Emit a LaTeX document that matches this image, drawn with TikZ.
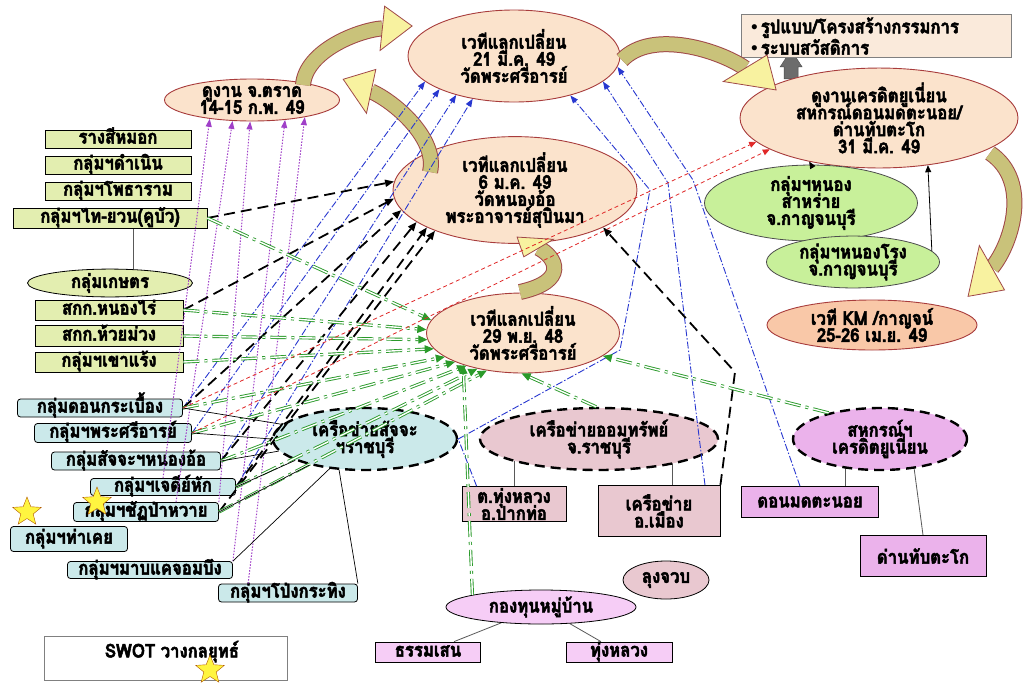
\documentclass[tikz,border=0pt]{standalone}
\usepackage{fontspec}
\setmainfont{Liberation Serif}
\newfontfamily\thaifont[Script=Thai, FakeStretch=0.88, FakeBold=2.6]{Loma}
\usetikzlibrary{shapes.geometric,arrows.meta,calc}

\definecolor{yboxfill}{HTML}{E3EEB0}
\definecolor{cboxfill}{HTML}{CBE9EA}
\definecolor{peach}{HTML}{FBE3CC}
\definecolor{evrim}{HTML}{A83C3C}
\definecolor{kmfill}{HTML}{F9C8A8}
\definecolor{greenfill}{HTML}{C8F09A}
\definecolor{pinkfill}{HTML}{E9C8D0}
\definecolor{violfill}{HTML}{EBB2EB}
\definecolor{fundfill}{HTML}{F6CDF6}
\definecolor{lessonfill}{HTML}{FAEADB}
\definecolor{purpc}{HTML}{A040C8}
\definecolor{bluec}{HTML}{2838D0}
\definecolor{greenc}{HTML}{2A9A2A}
\definecolor{redc}{HTML}{E02828}
\definecolor{arrbody}{HTML}{C9C27A}
\definecolor{arrhead}{HTML}{F8F2A0}
\definecolor{arrrim}{HTML}{A04848}

\pgfdeclarelayer{bg}
\pgfsetlayers{bg,main}

\tikzset{
  pics/bentarr/.style={code={
    \coordinate (hb) at (78,-0.55*#1);
    \coordinate (tp) at (100,0);
    \draw[line width=16pt, draw=arrrim] (0,0) .. controls (15,-1.3*#1) and (60,-#1) .. (hb);
    \draw[line width=14pt, draw=arrbody] (0,0) .. controls (15,-1.3*#1) and (60,-#1) .. (hb);
    \filldraw[draw=arrrim, fill=arrhead, line width=0.8pt] ($(hb)!21pt!90:(tp)$) -- (tp) -- ($(hb)!21pt!-90:(tp)$) -- cycle;
  }}
}
\AtBeginDocument{\lineskiplimit=-30pt}

\begin{document}
\begin{tikzpicture}[x=1pt, y=-1pt,
    every node/.style={font=\thaifont\bfseries\fontsize{19}{17}\selectfont, align=center, inner sep=0pt},
    ybox/.style={rectangle, draw, line width=0.8pt, fill=yboxfill, minimum height=18pt, text height=12pt, text depth=3pt},
    cbox/.style={rectangle, rounded corners=3pt, draw, line width=0.8pt, fill=cboxfill, minimum height=18pt, text height=12pt, text depth=3pt},
    event/.style={ellipse, draw=evrim, line width=0.9pt, fill=peach},
    grp/.style={ellipse, draw=black!70, line width=0.8pt, fill=greenfill},
    netw/.style={ellipse, draw, line width=2.4pt, dash pattern=on 10pt off 6pt},
    mbox/.style={rectangle, draw, line width=0.8pt},
    starnode/.style={star, star points=5, star point ratio=2.3, draw=orange!70!black, fill=yellow!75, minimum size=30pt},
    purp/.style={draw=purpc, line width=1pt, dash pattern=on 1.5pt off 1.5pt, -{Triangle[length=8pt,width=6pt]}},
    blu/.style={draw=bluec, line width=0.9pt, dash pattern=on 7pt off 2pt on 1.5pt off 2pt, -{Triangle[length=8pt,width=6pt]}},
    blk/.style={draw=black, line width=1.8pt, dash pattern=on 11pt off 6pt, -{Triangle[length=9pt,width=7pt]}},
    grn/.style={draw=greenc, line width=0.9pt, double=white, double distance=1.4pt, dash pattern=on 16pt off 5pt on 3pt off 5pt, -{Triangle[length=9pt,width=8pt]}},
    rdash/.style={draw=redc, line width=0.8pt, dash pattern=on 4pt off 3pt, -{Triangle[length=7pt,width=6pt]}},
    link/.style={draw=black, line width=0.7pt},
    member/.style={draw=black!65, line width=0.8pt},
    thinarr/.style={draw=black, line width=0.8pt, -{Triangle[length=7pt,width=6pt]}}
]
\useasboundingbox (0,0) rectangle (1025,686);

% left groups
\node[ybox, minimum width=146pt] (rang) at (118,139) {รางสีหมอก};
\node[ybox, minimum width=146pt] (damnoen) at (118,165) {กลุ่มฯดำเนิน};
\node[ybox, minimum width=146pt] (photharam) at (118,191) {กลุ่มฯโพธาราม};
\node[ybox, minimum width=194pt, minimum height=20pt] (thaiyuan) at (110,218) {กลุ่มฯไท-ยวน(คูบัว)};
\node[ellipse, draw, line width=0.8pt, fill=yboxfill, minimum width=165pt, minimum height=26pt] (kaset) at (110,283) {กลุ่มเกษตร};
\node[ybox, minimum width=148pt, minimum height=20pt] (nongrai) at (109,310) {สกก.หนองไร่};
\node[ybox, minimum width=148pt, minimum height=21pt] (huaimuang) at (109,336) {สกก.ห้วยม่วง};
\node[ybox, minimum width=148pt, minimum height=20pt] (khaorang) at (109,362) {กลุ่มฯเขาแร้ง};

% savings groups
\node[cbox, minimum width=165pt] (donkra) at (100,408) {กลุ่มดอนกระเบื้อง};
\node[cbox, minimum width=157pt, minimum height=19pt] (phrasri) at (113,433) {กลุ่มฯพระศรีอารย์};
\node[cbox, minimum width=169pt] (nongor) at (136,461) {กลุ่มสัจจะฯหนองอ้อ};
\node[cbox, minimum width=145pt, minimum height=17pt] (chedi) at (163,487) {กลุ่มฯเจดีย์หัก};
\node[cbox, minimum width=145pt, minimum height=19pt] (chat) at (146,512) {กลุ่มฯชัฏป่าหวาย};
\node[cbox, minimum width=117pt, minimum height=25pt] (thakhoei) at (69,539) {กลุ่มฯท่าเคย};
\node[cbox, minimum width=165pt, minimum height=17pt] (mapkhae) at (150,570) {กลุ่มฯมาบแคจอมบึง};
\node[cbox, minimum width=139pt] (pongkra) at (288,593) {กลุ่มฯโป่งกระทิง};
\node[starnode] (star1) at (27,512) {};
\node[starnode] (star2) at (97,502) {};

% events
\node[event, minimum width=175pt, minimum height=42pt] (trat) at (252,100) {ดูงาน จ.ตราด\\14-15 ก.พ. 49};
\node[event, minimum width=212pt, minimum height=92pt] (v21) at (514,56) {เวทีแลกเปลี่ยน\\21 มี.ค. 49\\วัดพระศรีอารย์};
\node[event, minimum width=244pt, minimum height=106pt] (v6) at (515,190) {เวทีแลกเปลี่ยน\\6 ม.ค. 49\\วัดหนองอ้อ\\พระอาจารย์สุบินมา};
\node[event, minimum width=193pt, minimum height=80pt] (v29) at (523,333) {เวทีแลกเปลี่ยน\\29 พ.ย. 48\\วัดพระศรีอารย์};
\node[event, minimum width=278pt, minimum height=98pt] (cu) at (879,118) {ดูงานเครดิตยูเนี่ยน\\สหกรณ์ดอนมดตะนอย/\\ด่านทับตะโก\\31 มี.ค. 49};
\node[rectangle, draw=black!50, line width=0.8pt, fill=lessonfill, minimum width=270pt, minimum height=43pt, text width=250pt, align=left] (lesson) at (876,36) {{\rmfamily •}\,รูปแบบ/โครงสร้างกรรมการ\\{\rmfamily •}\,ระบบสวัสดิการ};
\node[grp, minimum width=213pt, minimum height=59pt] (sarai) at (811,203) {กลุ่มฯหนอง\\สาหร่าย\\จ.กาญจนบุรี};
\node[grp, minimum width=173pt, minimum height=43pt] (nongrong) at (853,262) {กลุ่มฯหนองโรง\\จ.กาญจนบุรี};
\node[event, fill=kmfill, minimum width=210pt, minimum height=50pt] (km) at (872,325) {เวที KM /กาญจน์\\25-26 เม.ย. 49};

% networks
\node[netw, fill=cboxfill, minimum width=184pt, minimum height=62pt] (sajja) at (365,439) {เครือข่ายสัจจะ\\ฯราชบุรี};
\node[netw, fill=pinkfill, minimum width=238pt, minimum height=62pt] (omsap) at (599,439) {เครือข่ายออมทรัพย์\\จ.ราชบุรี};
\node[netw, fill=violfill, minimum width=174pt, minimum height=62pt] (coop) at (880,439) {สหกรณ์ฯ\\เครดิตยูเนี่ยน};
\node[mbox, fill=pinkfill, minimum width=104pt, minimum height=35pt] (paktho) at (514,504) {ต.ทุ่งหลวง\\อ.ปากท่อ};
\node[mbox, fill=pinkfill, minimum width=122pt, minimum height=51pt] (mueang) at (659,511) {เครือข่าย\\อ.เมือง};
\node[mbox, fill=violfill, minimum width=137pt, minimum height=31pt] (donmot) at (810,502) {ดอนมดตะนอย};
\node[mbox, fill=violfill, minimum width=126pt, minimum height=41pt] (danthap) at (923,556) {ด่านทับตะโก};
\node[ellipse, draw, line width=0.8pt, fill=pinkfill, minimum width=86pt, minimum height=38pt] (lungjuap) at (666,580) {ลุงจวบ};
\node[ellipse, draw, line width=0.8pt, fill=fundfill, minimum width=190pt, minimum height=34pt] (fund) at (541,607) {กองทุนหมู่บ้าน};
\node[mbox, fill=fundfill, minimum width=105pt, minimum height=20pt, text height=12pt, text depth=3pt] (thammasen) at (428,652) {ธรรมเสน};
\node[mbox, fill=fundfill, minimum width=106pt, minimum height=20pt, text height=12pt, text depth=3pt] (tungluang) at (619,652) {ทุ่งหลวง};

% SWOT
\node[rectangle, draw=black!50, line width=0.8pt, minimum width=243pt, minimum height=44pt] (swot) at (166,658) {};
\node (swotlbl) at ($(swot.north)+(6,16)$) {SWOT วางกลยุทธ์};
\node[starnode] (star3) at (210,670) {};

% background: member lines
\begin{pgfonlayer}{bg}
\fill[white] (0,0) rectangle (1025,686);
\coordinate (gbase) at (cu.156);
\coordinate (gtip) at (lesson.south -| gbase);
\filldraw[fill=gray!85!black, draw=gray!60!black] ($(gbase)+(-7,0)$) -- ($(gtip)+(-7,9)$) -- ($(gtip)+(-11,9)$) -- ($(gtip)+(0,-8)$) -- ($(gtip)+(11,9)$) -- ($(gtip)+(7,9)$) -- ($(gbase)+(7,0)$) -- cycle;
\draw[member] (paktho.north) -- (paktho.north |- omsap.center);
\draw[member] ($(mueang.north)+(13,0)$) -- ($(mueang.north |- omsap.center)+(13,0)$);
\draw[member] ($(donmot.north)+(35,0)$) -- ($(donmot.north |- coop.center)+(35,0)$);
\draw[member] (danthap.north) -- (coop.319);
\draw[member] (thammasen) -- (fund);
\draw[member] (tungluang) -- (fund);
\draw[member] ($(thaiyuan.south)+(23,0)$) -- ($(kaset.north)+(23,0)$);
\end{pgfonlayer}

% timeline arrows
\pic[rotate=93, xscale=0.55, yscale=-1] at (520,292) {bentarr=38};
\pic[rotate=133.1, xscale=1.27, yscale=-1] at (430,172) {bentarr=22};
\pic[rotate=28.4, xscale=1.24] at (303,85) {bentarr=22};
\pic[rotate=-11, xscale=1.57] at (622,60) {bentarr=28};
\pic[rotate=-98.7, xscale=1.45] at (990,153) {bentarr=35};

% to Trat
\draw[purp] (chedi.north) -- (trat.204);
\draw[purp] ($(chat.north)+(30,0)$) -- (trat.227);
\draw[purp] (chat.north east) -- (trat.265);
\draw[purp] (mapkhae.north east) -- (trat.329);
\draw[purp] ($(pongkra.north west)+(30,0)$) -- (trat.342);

% to 21 March
\coordinate (b1a) at (620,350);
\coordinate (b1b) at (650,190);
\coordinate (b2a) at (668,183);
\coordinate (b3a) at (693,180);
\draw[blu] (donkra.east) -- (v21.196);
\draw[blu] (phrasri.east) -- (v21.204);
\draw[blu] (nongor.east) -- (v21.214);
\draw[blu] (chedi.east) -- (v21.226);
\draw[blu] ($(paktho.north west)+(15,0)$) -- (sajja.east) -- (b1a) -- (b1b) -- (v21.325);
\draw[blu] ($(mueang.north)+(46,0)$) -- (b2a) -- (v21.344);
\draw[blu] ($(donmot.north)+(-10,0)$) -- (b3a) -- (v21.354);

% to 6 January
\coordinate (mbend) at (735,372);
\draw[blk] (thaiyuan.east) -- (v6.176);
\draw[blk] (nongrai.east) -- (v6.184);
\draw[blk] (donkra.east) -- (v6.190);
\draw[blk] (nongor.east) -- (v6.198);
\draw[blk] (chedi.east) -- (v6.203);
\draw[blk] (chat.east) -- (v6.207);
\draw[blk] (mueang.north east) -- (mbend) -- (v6.337);

% to 29 November
\draw[grn] (thaiyuan.east) -- (v29.172);
\draw[grn] (nongrai.east) -- (v29.178);
\draw[grn] (huaimuang.east) -- (v29.184);
\draw[grn] (khaorang.east) -- (v29.190);
\draw[grn] (donkra.east) -- (v29.197);
\draw[grn] (phrasri.east) -- (v29.203);
\draw[grn] (nongor.east) -- (v29.210);
\draw[grn] (chedi.east) -- (v29.218);
\draw[grn] (chat.east) -- (v29.226);
\draw[grn] (fund.170) -- (v29.208);
\draw[grn] (omsap.95) -- (v29.268);
\draw[grn] (coop.153) -- (v29.344);

% to credit union visit
\draw[rdash] (donkra.east) -- (cu.191);
\draw[rdash] (phrasri.east) -- (cu.196);
\draw[thinarr] (sarai.north) -- (cu.212);
\draw[thinarr] (nongrong.8) -- (cu.316);

% savings network members
\draw[link] (donkra.east) -- (sajja.170);
\draw[link] (phrasri.east) -- (sajja.180);
\draw[link] (nongor.east) -- (sajja.188);
\draw[link] (chedi.east) -- (sajja.197);
\draw[link] (chat.east) -- (sajja.205);
\draw[link] (mapkhae.north east) -- (sajja.220);
\draw[link] (pongkra.north east) -- (sajja.230);

\end{tikzpicture}
\end{document}
